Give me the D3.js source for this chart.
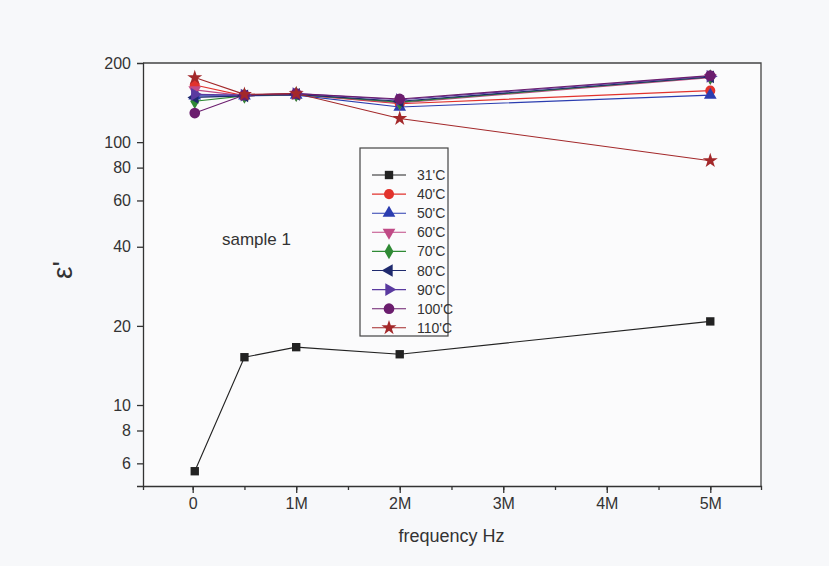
<!DOCTYPE html>
<html>
<head>
<meta charset="utf-8">
<script src="https://cdn.jsdelivr.net/npm/d3@7"></script>
<style>
  body { margin: 0; background: #f7f8fa; }
  svg { display: block; font-family: "Liberation Sans", Arial, sans-serif; }
  .axis text { font-size: 16px; fill: #333; }
  .axis path, .axis line { stroke: #333; stroke-width: 1.3; }
</style>
</head>
<body>
<div id="chart"></div>
<script>
// frequency points (Hz)
const freqs = [20000, 500000, 1000000, 2000000, 5000000];
const temps = ['31\'C', '40\'C', '50\'C', '60\'C', '70\'C', '80\'C', '90\'C', '100\'C', '110\'C'];
const eps31 = [5.6, 15.2, 16.6, 15.6, 20.8];
const eps40 = [165, 150, 152, 140, 157];
const eps50 = [150, 150, 151, 136, 151];
const eps60 = [158, 150, 152, 141, 176];
const eps70 = [143, 150, 152, 142, 177];
const eps80 = [148, 150, 152, 143, 177];
const eps90 = [152, 151, 153, 145, 178];
const eps100 = [129, 151, 153, 146, 179];
const eps110 = [176, 152, 153, 123, 85];
const yTicks = [6, 8, 10, 20, 40, 60, 80, 100, 200];
const xTicks = [0, 1e6, 2e6, 3e6, 4e6, 5e6];
const xTickLabels = ['0', '1M', '2M', '3M', '4M', '5M'];

const seriesValues = [eps31, eps40, eps50, eps60, eps70, eps80, eps90, eps100, eps110];
const colors = ['#222222', '#e2322c', '#2b3db0', '#c04a86', '#2f8a35', '#1f2a6e', '#5a3aa0', '#6b1d6e', '#a3282a'];
const shapes = [
  { t: d3.symbolSquare, r: 0, s: 70 },
  { t: d3.symbolCircle, r: 0, s: 80 },
  { t: d3.symbolTriangle, r: 0, s: 70 },
  { t: d3.symbolTriangle, r: 180, s: 70 },
  { t: d3.symbolDiamond, r: 0, s: 70 },
  { t: d3.symbolTriangle, r: -90, s: 70 },
  { t: d3.symbolTriangle, r: 90, s: 70 },
  { t: d3.symbolCircle, r: 0, s: 90 },
  { t: d3.symbolStar, r: 0, s: 70 }
];

const W = 829, H = 566;
const margin = { top: 63, right: 68, bottom: 80, left: 143 };
const width = W - margin.left - margin.right;
const height = H - margin.top - margin.bottom;

const svg = d3.select('#chart').append('svg')
  .attr('width', W)
  .attr('height', H);

const g = svg.append('g')
  .attr('transform', `translate(${margin.left},${margin.top})`);

const x = d3.scaleLinear().domain([-0.48e6, 5.49e6]).range([0, width]);
const y = d3.scaleLog().domain([4.92, 200]).range([height, 0]);

g.append('rect').attr('width', width).attr('height', height).attr('fill', '#fbfbfc');

// frame top and right
g.append('path')
  .attr('d', `M0,0H${width}V${height}`)
  .attr('fill', 'none').attr('stroke', '#444').attr('stroke-width', 1.3);

// x axis with minor ticks
g.append('g').attr('class', 'axis')
  .attr('transform', `translate(0,${height})`)
  .call(d3.axisBottom(x).tickValues(d3.range(-0.5e6, 5.5e6, 0.5e6).filter(v => v > -0.48e6)).tickSize(4).tickFormat(''));
const xa = g.append('g').attr('class', 'axis')
  .attr('transform', `translate(0,${height})`)
  .call(d3.axisBottom(x).tickValues(xTicks).tickSize(7).tickPadding(5)
    .tickFormat((d, i) => xTickLabels[i]));
xa.select('.domain').remove();

// y axis
g.append('g').attr('class', 'axis')
  .call(d3.axisLeft(y).tickValues(yTicks).tickSize(6).tickPadding(6)
    .tickFormat(d3.format('d')))
  .call(a => a.selectAll('.tick').filter(d => d === 200).select('line').remove());

// series
const line = d3.line().x((d, i) => x(freqs[i])).y(d => y(d));
seriesValues.forEach((vals, k) => {
  g.append('path').datum(vals)
    .attr('d', line)
    .attr('fill', 'none')
    .attr('stroke', colors[k])
    .attr('stroke-width', 1.1);
});
seriesValues.forEach((vals, k) => {
  const sym = d3.symbol().type(shapes[k].t).size(shapes[k].s);
  g.selectAll(null).data(vals).enter().append('path')
    .attr('d', sym)
    .attr('transform', (d, i) => `translate(${x(freqs[i])},${y(d)}) rotate(${shapes[k].r})`)
    .attr('fill', colors[k]);
});

// legend
const lg = svg.append('g').attr('transform', 'translate(360,148)');
lg.append('rect').attr('width', 88).attr('height', 188)
  .attr('fill', '#fbfbfc').attr('stroke', '#444').attr('stroke-width', 1.2);
temps.forEach((t, k) => {
  const yy = 27 + k * 19.1;
  lg.append('line').attr('x1', 12).attr('x2', 46).attr('y1', yy).attr('y2', yy)
    .attr('stroke', colors[k]).attr('stroke-width', 1.1);
  lg.append('path')
    .attr('d', d3.symbol().type(shapes[k].t).size(shapes[k].s)())
    .attr('transform', `translate(29,${yy}) rotate(${shapes[k].r})`)
    .attr('fill', colors[k]);
  lg.append('text').attr('x', 57).attr('y', yy + 5)
    .attr('font-size', 14).attr('fill', '#333').text(t);
});

svg.append('text').attr('x', 222).attr('y', 245)
  .attr('font-size', 17).attr('fill', '#333').text('sample 1');

svg.append('text')
  .attr('x', margin.left + x(2.5e6)).attr('y', 542)
  .attr('text-anchor', 'middle').attr('font-size', 18).attr('fill', '#333')
  .text('frequency Hz');

svg.append('text')
  .attr('transform', 'translate(72,270) rotate(-90)')
  .attr('text-anchor', 'middle').attr('font-size', 28).attr('fill', '#333')
  .text('ε\'');
</script>
</body>
</html>
